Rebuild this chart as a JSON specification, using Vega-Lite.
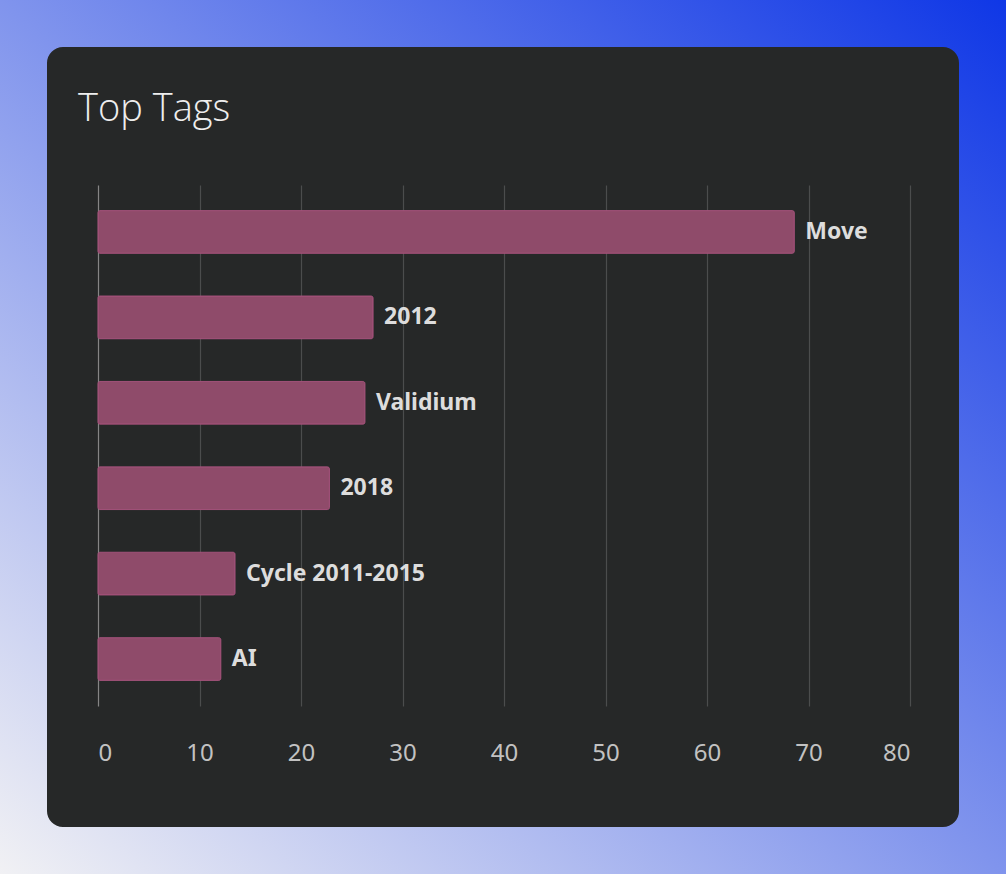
{
  "$schema": "https://vega.github.io/schema/vega-lite/v6.json",
  "description": "Top Tags: horizontal bar chart on a dark card.",
  "usermeta": {"embedOptions": {"actions": false}},
  "width": 1006,
  "height": 874,
  "autosize": {"type": "none"},
  "padding": 0,
  "background": "#262828",
  "title": {
    "text": "Top Tags",
    "anchor": "start",
    "frame": "group",
    "orient": "top",
    "offset": -159,
    "baseline": "alphabetic",
    "dx": 78,
    "font": "Open Sans",
    "fontSize": 38,
    "fontWeight": 300,
    "color": "#eeeeee"
  },
  "view": {
    "fill": "#262828",
    "stroke": {
      "gradient": "linear",
      "x1": 0, "y1": 1, "x2": 1, "y2": 0,
      "stops": [
        {"offset": 0, "color": "#f1f1f4"},
        {"offset": 1, "color": "#0f37e6"}
      ]
    },
    "strokeWidth": 94,
    "cornerRadius": 63
  },
  "data": {
    "values": [
      {"tag": "Move", "count": 68.6},
      {"tag": "2012", "count": 27.1},
      {"tag": "Validium", "count": 26.3},
      {"tag": "2018", "count": 22.8},
      {"tag": "Cycle 2011-2015", "count": 13.5},
      {"tag": "AI", "count": 12.1}
    ]
  },
  "encoding": {
    "y": {
      "field": "tag",
      "type": "nominal",
      "sort": {"field": "count", "order": "descending"},
      "scale": {"range": [185, 706], "paddingInner": 0.5, "paddingOuter": 0.3},
      "axis": null
    },
    "x": {
      "field": "count",
      "type": "quantitative",
      "scale": {"domain": [0, 80], "range": [98, 910], "nice": false},
      "axis": {
        "orient": "top",
        "values": [0, 10, 20, 30, 40, 50, 60, 70, 80],
        "title": null,
        "domain": false,
        "ticks": false,
        "offset": -760,
        "labelPadding": 0,
        "labelBaseline": "alphabetic",
        "labelFont": "Noto Sans",
        "labelFontSize": 24,
        "labelColor": "#c2c2c2",
        "gridColor": {"condition": {"test": "datum.value === 0", "value": "#858585"}, "value": "#4b4d4d"},
        "gridWidth": 1.2
      }
    }
  },
  "layer": [
    {
      "mark": {"type": "bar", "fill": "#8f4b6a", "stroke": "#a3527a", "strokeWidth": 1, "cornerRadius": 2}
    },
    {
      "mark": {
        "type": "text",
        "align": "left",
        "baseline": "middle",
        "dx": 11,
        "font": "Noto Sans",
        "fontWeight": "bold",
        "fontSize": 23,
        "color": "#dddddd"
      },
      "encoding": {"text": {"field": "tag"}}
    }
  ]
}
